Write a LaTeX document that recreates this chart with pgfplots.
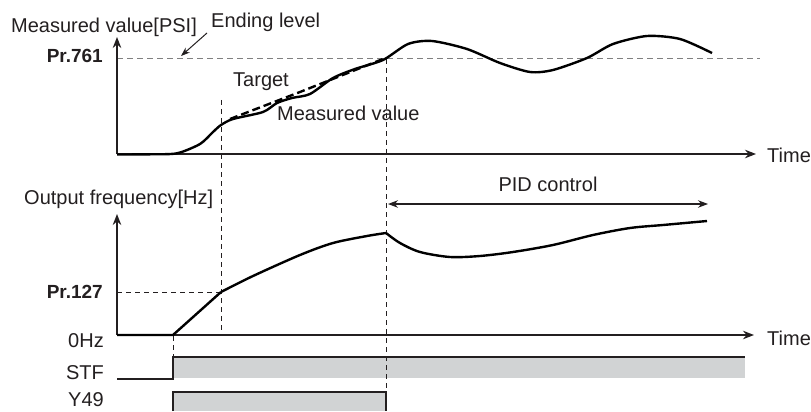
\documentclass[border=0pt]{standalone}
\usepackage{pgfplots}
\pgfplotsset{compat=1.18}
\usetikzlibrary{arrows.meta}
\usepackage{fontspec}
\setmainfont{Liberation Sans}
\definecolor{bargray}{HTML}{D1D3D4}
\definecolor{ink}{HTML}{231F20}
\definecolor{dashgray}{HTML}{808080}
\tikzset{
  lbl/.style={font=\fontsize{20}{24}\selectfont, inner sep=0pt, text=ink},
  blbl/.style={font=\fontsize{19}{23}\selectfont\bfseries, inner sep=0pt, text=ink},
  axarrow/.style={ink, line width=1.4pt, -{Stealth[length=11pt,width=8.5pt]}},
  vdash/.style={ink, line width=0.8pt, dash pattern=on 5pt off 4pt},
}
\begin{document}
\begin{tikzpicture}
\begin{axis}[
    width=811pt, height=411pt, scale only axis,
    hide axis, clip=false,
    xmin=0, xmax=811, ymin=0, ymax=411,
    y dir=reverse,
  ]
  % keeps the whole frame in the bounding box
  \addplot[draw=none] coordinates {(0,0) (811,411)};

  % bars STF / Y49
  \addplot[fill=bargray, draw=none] coordinates {(173,357) (745,357) (745,378) (173,378)} -- cycle;
  \addplot[fill=bargray, draw=none] coordinates {(173,392) (386,392) (386,411) (173,411)} -- cycle;
  \addplot[ink, line width=1.1pt] coordinates {(117,379) (173,379) (173,357) (745,357)};
  \addplot[ink, line width=1.1pt] coordinates {(173,411) (173,392) (386,392) (386,411)};

  % reference lines
  \addplot[dashgray, line width=1pt, dash pattern=on 6pt off 4pt] coordinates {(117,59) (760,59)};
  \addplot[ink, line width=0.8pt, dash pattern=on 5pt off 4pt] coordinates {(117,292) (221,292)};
  \addplot[vdash] coordinates {(221,100) (221,335)};
  \addplot[vdash] coordinates {(386,59) (386,411)};
  \addplot[vdash] coordinates {(173,336) (173,357)};

  % axes
  \addplot[axarrow] coordinates {(117,154) (117,37)};
  \addplot[axarrow] coordinates {(117,154) (756,154)};
  \addplot[axarrow] coordinates {(117,335) (117,214)};
  \addplot[axarrow] coordinates {(117,335) (754,335)};

  % target (dashed)
  \addplot[black, line width=2.4pt, dash pattern=on 8pt off 4pt] coordinates {(230,119) (300,92) (383,59)};

  % measured value
  \addplot[black, line width=2.4pt, smooth, tension=0.45] coordinates {
    (117,154.5) (150,154.3) (177,153.3) (200,144) (213,132) (221,125)
    (233,119) (263,112) (277,103) (292,98) (310,94) (333,78) (355,69)
    (383,60) (408,44) (432,41) (467,49) (500,63) (530,72) (553,70)
    (587,58) (613,44) (647,36) (680,39) (712,53)
  };

  % output frequency
  \addplot[black, line width=2.4pt] coordinates {(117,335) (173,335) (221,292)};
  \addplot[black, line width=2.4pt, smooth, tension=0.5] coordinates {
    (221,292) (253,276) (300,255) (333,243) (367,236) (386,233)
  };
  \addplot[black, line width=2.4pt, smooth, tension=0.5] coordinates {
    (386,233) (400,243) (420,252) (450,257) (480,256) (513,252)
    (553,245) (593,235) (630,228) (663,225) (707,221)
  };

  % PID control span
  \addplot[ink, line width=1.1pt, {Stealth[length=10pt,width=7.5pt]}-{Stealth[length=10pt,width=7.5pt]}] coordinates {(388,204) (708,204)};

  % ending level pointer
  \addplot[ink, line width=1pt, -{Stealth[length=9pt,width=6.5pt]}] coordinates {(207,33) (181,56)};

  % labels
  \node[lbl, anchor=base west] at (axis cs:11,33) {Measured value[PSI]};
  \node[lbl, anchor=base west] at (axis cs:211,28) {Ending level};
  \node[blbl, anchor=base east] at (axis cs:103,63) {Pr.761};
  \node[lbl, anchor=base west] at (axis cs:233,87) {Target};
  \node[lbl, anchor=base west] at (axis cs:277,121) {Measured value};
  \node[lbl, anchor=base west] at (axis cs:767,163) {Time};
  \node[lbl, anchor=base west] at (axis cs:24,204) {Output frequency[Hz]};
  \node[lbl, anchor=base] at (axis cs:548,191) {PID control};
  \node[blbl, anchor=base east] at (axis cs:103,298) {Pr.127};
  \node[lbl, anchor=base east] at (axis cs:104,347) {0Hz};
  \node[lbl, anchor=base west] at (axis cs:767,345) {Time};
  \node[lbl, anchor=base east] at (axis cs:104,379) {STF};
  \node[lbl, anchor=base east] at (axis cs:104,406) {Y49};
\end{axis}
\end{tikzpicture}
\end{document}
